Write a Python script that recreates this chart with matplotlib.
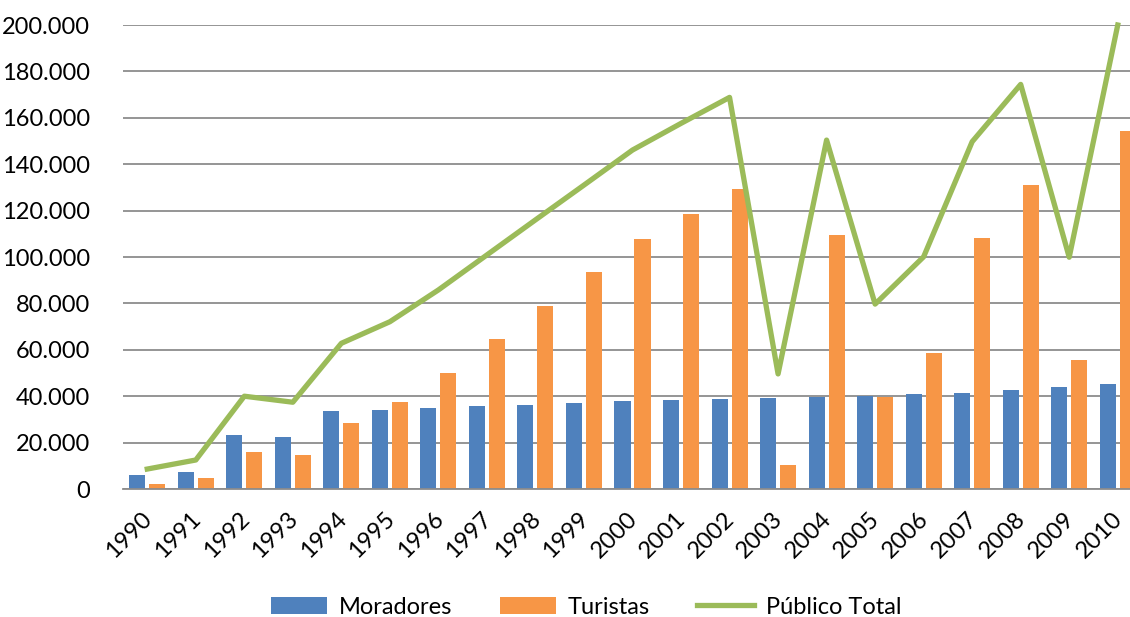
import numpy as np
import matplotlib
matplotlib.use("Agg")
from matplotlib import pyplot as plt
from matplotlib.ticker import FuncFormatter
from matplotlib.transforms import ScaledTranslation

anos = [str(a) for a in range(1990, 2011)]
moradores = [6000, 7200, 23300, 22300, 33600, 34200, 35000, 35600, 36300, 37100,
             37800, 38200, 38800, 39400, 39800, 40200, 40800, 41200, 42500, 43800, 45100]
turistas = [2200, 4600, 16100, 14700, 28300, 37400, 50000, 64500, 79000, 93500,
            107900, 118700, 129400, 10300, 109600, 39500, 58800, 108200, 130900, 55600, 154300]
publico_total = [8600, 12500, 40000, 37400, 62800, 72100, 85800, 100900, 116000, 131000,
                 146100, 157600, 168800, 49600, 150400, 79700, 100100, 149700, 174400, 99900, 200000]

plt.rcParams['font.family'] = ['Lato', 'DejaVu Sans']

fig = plt.figure(figsize=(11.3, 6.17), dpi=100)
# eixo passa da borda direita, como no original (cortado)
ax = fig.add_axes([123 / 1130, 128 / 617, 1019 / 1130, 464 / 617])

x = np.arange(len(anos))
w = 0.33
b1 = ax.bar(x - 0.206, moradores, w, color='#4F81BD', label='Moradores', zorder=2)
b2 = ax.bar(x + 0.206, turistas, w, color='#F79646', label='Turistas', zorder=2)
l1, = ax.plot(x, publico_total, color='#9BBB59', lw=3.8, label='Público Total',
              zorder=3, clip_on=False)

ax.set_xlim(-0.5, len(anos) - 0.5)
ax.set_ylim(0, 200000)
ax.set_yticks(np.arange(0, 200001, 20000))
ax.yaxis.set_major_formatter(FuncFormatter(lambda v, p: f"{int(v):,}".replace(",", ".")))
ax.grid(axis='y', color='#8C8C8C', lw=1.3, zorder=0)
ax.set_axisbelow(True)

for s in ['top', 'right', 'left']:
    ax.spines[s].set_visible(False)
ax.spines['bottom'].set_color('#8C8C8C')
ax.spines['bottom'].set_linewidth(1.3)

ax.set_xticks(x)
ax.set_xticklabels(anos, rotation=45, ha='right', rotation_mode='anchor')
ax.tick_params(axis='both', length=0, labelsize=17)
ax.tick_params(axis='y', pad=24)
ax.tick_params(axis='x', pad=14)
desloc = ScaledTranslation(-6 / 100, 0, fig.dpi_scale_trans)
for t in ax.get_xticklabels():
    t.set_transform(t.get_transform() + desloc)

fig.legend([b1, b2, l1], ['Moradores', 'Turistas', 'Público Total'],
           loc='center', bbox_to_anchor=(586 / 1130, 1 - 607 / 617), ncol=3,
           frameon=False, fontsize=17, handlelength=2.4, columnspacing=2.0,
           handletextpad=0.5)

fig.savefig('out.png', dpi=100)
